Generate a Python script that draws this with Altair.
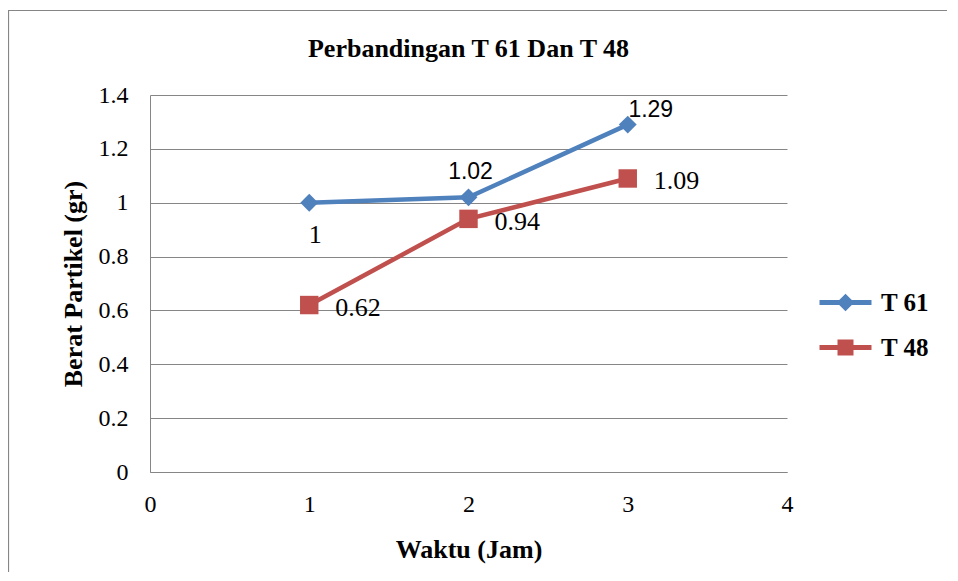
import altair as alt
import pandas as pd

waktu = [1, 2, 3]
t61 = [1.00, 1.02, 1.29]
t48 = [0.62, 0.94, 1.09]
series_names = ["T 61", "T 48"]
colors = ["#4F81BD", "#C0504D"]
x_ticks = [0, 1, 2, 3, 4]
y_ticks = [0, 0.2, 0.4, 0.6, 0.8, 1.0, 1.2, 1.4]

rows = []
for i, w in enumerate(waktu):
    rows.append({"waktu": w, "berat": t61[i], "seri": "T 61", "idx": i})
for i, w in enumerate(waktu):
    rows.append({"waktu": w, "berat": t48[i], "seri": "T 48", "idx": i})
df = pd.DataFrame(rows)

SERIF = "Liberation Serif"
SANS = "Liberation Sans"

x_enc = alt.X("waktu:Q", scale=alt.Scale(domain=[0, 4], nice=False),
              axis=alt.Axis(values=x_ticks, title="Waktu (Jam)", grid=False, ticks=False,
                            labelPadding=20, titlePadding=20, domainColor="#868686",
                            labelFlush=False,
                            labelFont=SERIF, labelFontSize=24, labelColor="#000",
                            titleFont=SERIF, titleFontSize=26, titleFontWeight="bold",
                            titleColor="#000", format="d"))
y_enc = alt.Y("berat:Q", scale=alt.Scale(domain=[0, 1.4], nice=False),
              axis=alt.Axis(values=y_ticks, title="Berat Partikel (gr)", grid=True,
                            gridColor="#868686", ticks=False, labelPadding=22,
                            titlePadding=12, domainColor="#868686",
                            labelFont=SERIF, labelFontSize=24, labelColor="#000",
                            titleFont=SERIF, titleFontSize=26, titleFontWeight="bold",
                            titleColor="#000", labelExpr="format(datum.value, '~g')"))
color_scale = alt.Scale(domain=series_names, range=colors)

line_path_61 = ("M-5.5,-0.3H1V0.3H-5.5Z "
                "M-3.35,0L-2.25,-1.1L-1.15,0L-2.25,1.1Z")
line_path_48 = ("M-5.5,-0.3H1V0.3H-5.5Z "
                "M-3.25,-1H-1.25V1H-3.25Z")

base = alt.Chart(df)
f61 = alt.datum.seri == "T 61"
f48 = alt.datum.seri == "T 48"

line61 = base.transform_filter(f61).mark_line(strokeWidth=4.5, color=colors[0]).encode(x=x_enc, y=y_enc)
line48 = base.transform_filter(f48).mark_line(strokeWidth=4.5, color=colors[1]).encode(x="waktu:Q", y="berat:Q")

pts61 = base.transform_filter(f61).mark_point(
    shape="diamond", filled=True, size=320, opacity=1, color=colors[0]
).encode(x="waktu:Q", y="berat:Q")
pts48 = base.transform_filter(f48).mark_point(
    shape="square", filled=True, size=340, opacity=1, color=colors[1]
).encode(x="waktu:Q", y="berat:Q")

leg = dict(title=None, orient="none", legendX=701, legendY=195,
           symbolSize=256, symbolOpacity=1, symbolStrokeWidth=0,
           rowPadding=19, labelOffset=5, padding=0,
           labelFont=SERIF, labelFontSize=25, labelFontWeight="bold", labelColor="#000")
legend_layer = base.mark_point(filled=True, opacity=0, size=1).encode(
    x="waktu:Q", y="berat:Q",
    color=alt.Color("seri:N", scale=color_scale, legend=alt.Legend(**leg)),
    shape=alt.Shape("seri:N", scale=alt.Scale(domain=series_names,
                                              range=[line_path_61, line_path_48]),
                    legend=alt.Legend(**leg)),
)

lab_kw = dict(color="#000")
lab48 = base.transform_filter(f48).mark_text(
    font=SERIF, fontSize=26, align="left", baseline="middle", dx=26, dy=3, **lab_kw
).encode(x="waktu:Q", y="berat:Q", text=alt.Text("berat:Q", format="~g"))
lab61a = base.transform_filter(f61 & (alt.datum.idx == 0)).mark_text(
    font=SERIF, fontSize=26, align="center", baseline="middle", dx=6, dy=32, **lab_kw
).encode(x="waktu:Q", y="berat:Q", text=alt.Text("berat:Q", format="~g"))
lab61b = base.transform_filter(f61 & (alt.datum.idx == 1)).mark_text(
    font=SANS, fontSize=23, align="center", baseline="middle", dx=2, dy=-25, **lab_kw
).encode(x="waktu:Q", y="berat:Q", text=alt.Text("berat:Q", format="~g"))
lab61c = base.transform_filter(f61 & (alt.datum.idx == 2)).mark_text(
    font=SANS, fontSize=23, align="center", baseline="middle", dx=23, dy=-15, **lab_kw
).encode(x="waktu:Q", y="berat:Q", text=alt.Text("berat:Q", format="~g"))

border = alt.Chart(pd.DataFrame({"a": [0]})).mark_rect(
    fill=None, stroke="#868686", strokeWidth=1.2
).encode(x=alt.value(-141.5), x2=alt.value(806), y=alt.value(-84.5), y2=alt.value(484))

chart = alt.layer(
    border, line61, line48, pts61, pts48, legend_layer, lab48, lab61a, lab61b, lab61c
).properties(
    width=637, height=377,
    title=alt.TitleParams("Perbandingan T 61 Dan T 48", font=SERIF, fontSize=26,
                          fontWeight="bold", color="#000", anchor="middle",
                          baseline="alphabetic", offset=-73),
    autosize=alt.AutoSizeParams(type="none"),
    padding={"left": 142, "top": 87, "right": 160, "bottom": 100},
).configure_view(stroke=None)

chart.save("out.html", embed_options={"renderer": "svg", "actions": False})
